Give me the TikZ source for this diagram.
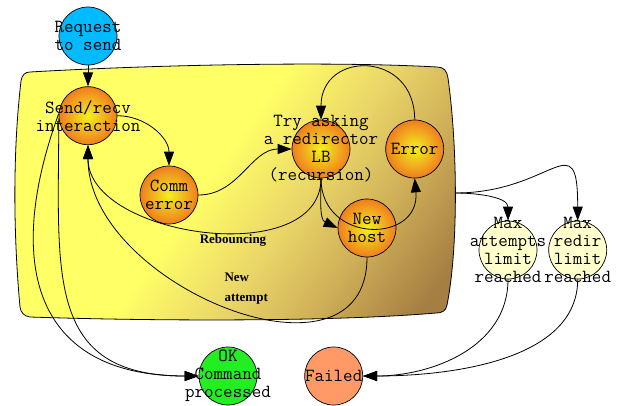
\documentclass[tikz,border=0pt]{standalone}
\usepackage{fontspec}
\newfontfamily\edgefont{Liberation Serif}
\usetikzlibrary{arrows.meta,positioning}

\definecolor{reqblue}{HTML}{00BBFF}
\definecolor{orbin}{HTML}{F2F21E}
\definecolor{orbout}{HTML}{F07D1E}
\definecolor{limitfill}{HTML}{FFFFCC}
\definecolor{okgreen}{HTML}{22EE22}
\definecolor{failfill}{HTML}{FF9966}
\definecolor{clyel}{HTML}{FFFF66}
\definecolor{cllight}{HTML}{EAD668}
\definecolor{clmid}{HTML}{D0B058}
\definecolor{clbrn}{HTML}{A47E42}

\pgfdeclareradialshading{orb}{\pgfpointorigin}{color(0bp)=(orbin); color(25bp)=(orbout); color(50bp)=(orbout)}
\pgfdeclarehorizontalshading{cluster}{100bp}{color(0bp)=(clyel); color(46bp)=(clyel); color(58bp)=(cllight); color(68bp)=(clmid); color(80bp)=(clbrn); color(100bp)=(clbrn)}

\begin{document}
\begin{tikzpicture}[x=1pt,y=1pt]
  \tikzstyle{state} = [circle,draw,line width=0.7pt,minimum size=58pt,inner sep=0pt]
  \tikzstyle{orb} = [state,shading=orb]
  \tikzstyle{mono} = [font=\ttfamily\fontsize{18.5}{18}\selectfont,align=center,text=black]
  \tikzstyle{tag} = [font=\edgefont\bfseries\fontsize{13}{20}\selectfont,align=left]
  \tikzstyle{arrow} = [line width=0.8pt,->,>={Triangle[length=14pt,width=10pt]}]
  \useasboundingbox (0,0) rectangle (618,-405);

  % the cluster box
  \shadedraw [shading=cluster,shading angle=-35,line width=0.8pt]
    (30,-72) .. controls (150,-65) and (330,-61) .. (437,-67)
    .. controls (444,-67) and (447,-71) .. (448,-78)
    .. controls (458,-150) and (458,-250) .. (447,-305)
    .. controls (446,-311) and (442,-313) .. (436,-313)
    .. controls (330,-322) and (150,-321) .. (30,-317)
    .. controls (24,-316) and (21,-313) .. (20,-307)
    .. controls (13,-230) and (13,-150) .. (21,-81)
    .. controls (22,-75) and (25,-72) .. cycle;
  \coordinate (clusterR) at (455,-193);

  \node (req) [state,fill=reqblue,label={[mono]center:Request\\to send}] at (88,-36) {};
  \node (send) [orb,below=21pt of req,label={[mono]center:Send/recv\\interaction}] {};
  \node (comm) [orb,label={[mono]center:Comm\\error}] at (169,-195) {};
  \node (lb) [orb,label={[mono]center:Try asking\\a redirector\\LB\\(recursion)}] at (321,-149) {};
  \node (err) [orb,right=35pt of lb,label={[mono]center:Error}] {};
  \node (new) [orb,label={[mono]center:New\\host}] at (367,-228) {};
  \node (maxatt) [state,fill=limitfill,label={[mono]center:Max\\attempts\\limit\\reached}] at (508,-250) {};
  \node (maxredir) [state,fill=limitfill,right=11pt of maxatt,label={[mono]center:Max\\redir\\limit\\reached}] {};
  \node (ok) [state,fill=okgreen,label={[mono]center:OK\\Command\\processed}] at (228,-376) {};
  \node (fail) [state,fill=failfill,right=47pt of ok,label={[mono]center:Failed}] {};

  \draw [arrow] (req) -- (send);
  \draw [arrow] (send.east) to[out=0,in=90] (comm.north);
  \draw [arrow] (comm.east) to[out=0,in=180] (lb.west);
  \draw [arrow] (err.north) to[out=90,in=90,looseness=1.9] (lb.north);
  \draw [arrow] (lb.south) to[out=-90,in=155] (new.west);
  \draw [arrow] (lb.south) to[out=-90,in=-85,looseness=1.8] (err.south);
  \draw [arrow] (lb.south) to[out=-90,in=-90] (send.south);
  \draw [arrow] (new.south) to[out=-90,in=-90,looseness=1.2] (send.south);
  \draw [arrow] (send.176) to[out=-110,in=180,looseness=1.4] (ok.west);
  \draw [arrow] (send.185) to[out=-90,in=180,looseness=1.35] (ok.west);
  \draw [arrow] (clusterR) to[out=0,in=90] (maxatt.north);
  \draw [arrow] (clusterR) to[out=0,in=90,looseness=2] (maxredir.north);
  \draw [arrow] (maxatt.south) to[out=-90,in=0] (fail.east);
  \draw [arrow] (maxredir.south) to[out=-90,in=0,looseness=0.9] (fail.east);

  \node (rebounce) [tag] at (233,-240) {Rebouncing};
  \node (attempt) [tag,anchor=west] at (221,-289) {New\\attempt};
\end{tikzpicture}
\end{document}
